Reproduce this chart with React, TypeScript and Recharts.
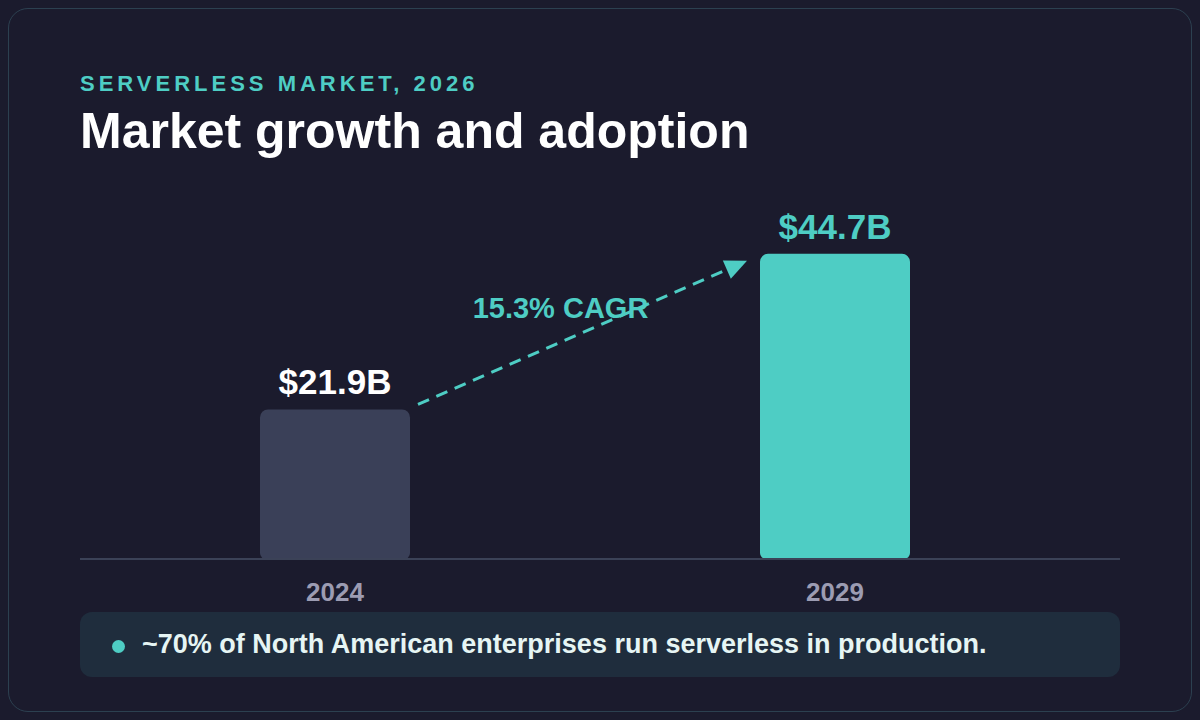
import React from "react";
import { BarChart, Bar, XAxis, YAxis, Cell, LabelList, ReferenceLine } from "recharts";

const categories = ["2024", "2029"];
const marketValues = [21.9, 44.7];
const valueLabels = ["$21.9B", "$44.7B"];
const cagrLabel = "15.3% CAGR";
const eyebrow = "SERVERLESS MARKET, 2026";
const title = "Market growth and adoption";
const note = "~70% of North American enterprises run serverless in production.";

const BG = "#1b1b2d";
const TEAL = "#4ecdc4";
const BAR_FILLS = ["#3a4058", TEAL];
const LABEL_FILLS = ["#ffffff", TEAL];
const BAR_SIZE = 150;
const FONT = "'Liberation Sans', Arial, Helvetica, sans-serif";

const data = categories.map((c, i) => ({ year: c, value: marketValues[i], label: valueLabels[i] }));

const renderValueLabel = (props: any) => {
  const { x, y, width, value } = props;
  let idx = props.index;
  if (idx === undefined || idx === null) idx = marketValues.indexOf(Number(value));
  return (
    <text
      x={Number(x) + Number(width) / 2}
      y={Number(y) - 15}
      textAnchor="middle"
      fill={LABEL_FILLS[idx] ?? "#fff"}
      fontSize={35}
      fontWeight={700}
      fontFamily={FONT}
    >
      {valueLabels[idx]}
    </text>
  );
};

const ArrowShape = (props: any) => {
  const { x1, y1, x2, y2 } = props;
  if ([x1, y1, x2, y2].some((v) => v === undefined || isNaN(Number(v)))) return null;
  const half = BAR_SIZE / 2;
  const sx = x1 + half + 8;
  const sy = y1 - 5;
  const tx = x2 - half - 13;
  const ty = y2 + 7;
  const dx = tx - sx;
  const dy = ty - sy;
  const len = Math.sqrt(dx * dx + dy * dy);
  const ux = dx / len;
  const uy = dy / len;
  const headLen = 22;
  const headHalf = 10;
  const bx = tx - ux * headLen;
  const by = ty - uy * headLen;
  const px = -uy;
  const py = ux;
  const ex = tx - ux * (headLen - 4);
  const ey = ty - uy * (headLen - 4);
  const mx = (sx + tx) / 2;
  const my = (sy + ty) / 2;
  return (
    <g>
      <line x1={sx} y1={sy} x2={ex} y2={ey} stroke={TEAL} strokeWidth={3} strokeDasharray="12 8" />
      <polygon
        points={`${tx},${ty} ${bx + px * headHalf},${by + py * headHalf} ${bx - px * headHalf},${by - py * headHalf}`}
        fill={TEAL}
      />
      <text
        x={mx - 22}
        y={my - 15}
        textAnchor="middle"
        fill={TEAL}
        fontSize={29}
        fontWeight={700}
        fontFamily={FONT}
      >
        {cagrLabel}
      </text>
    </g>
  );
};

export default function App() {
  return (
    <div style={{ position: "absolute", left: 0, top: 0, width: 1200, height: 720, background: BG, fontFamily: FONT, overflow: "hidden" }}>
      <div
        style={{
          position: "absolute",
          left: 8,
          top: 8,
          width: 1184,
          height: 704,
          boxSizing: "border-box",
          border: "1.5px solid #2c4050",
          borderRadius: 20,
        }}
      />
      <div style={{ position: "absolute", left: 0, top: 0 }}>
        <BarChart width={1200} height={720} data={data} margin={{ top: 204, right: 80, bottom: 121, left: 80 }}>
          <YAxis hide domain={[0, 52]} />
          <XAxis
            dataKey="year"
            height={40}
            padding={{ left: 5, right: 35 }}
            axisLine={{ stroke: "#3b4257", strokeWidth: 2 }}
            tickLine={false}
            tickMargin={18}
            tick={{ fill: "#9c9cb2", fontSize: 26, fontWeight: 700, fontFamily: FONT }}
          />
          <Bar dataKey="value" barSize={BAR_SIZE} radius={[8, 8, 6, 6]} isAnimationActive={false}>
            {data.map((d, i) => (
              <Cell key={d.year} fill={BAR_FILLS[i]} />
            ))}
            <LabelList dataKey="value" content={renderValueLabel} />
          </Bar>
          <ReferenceLine
            segment={[
              { x: categories[0], y: marketValues[0] },
              { x: categories[1], y: marketValues[1] },
            ]}
            shape={ArrowShape}
          />
        </BarChart>
      </div>
      <div
        style={{
          position: "absolute",
          left: 80,
          top: 92 - 0.8465 * 22,
          fontSize: 22,
          lineHeight: "22px",
          fontWeight: 700,
          letterSpacing: 4,
          color: TEAL,
          whiteSpace: "nowrap",
        }}
      >
        {eyebrow}
      </div>
      <div
        style={{
          position: "absolute",
          left: 80,
          top: 148 - 0.8465 * 50,
          fontSize: 50,
          lineHeight: "50px",
          fontWeight: 700,
          color: "#ffffff",
          whiteSpace: "nowrap",
        }}
      >
        {title}
      </div>
      <div
        style={{
          position: "absolute",
          left: 80,
          top: 612,
          width: 1040,
          height: 65,
          borderRadius: 12,
          background: "#1f2d3d",
        }}
      />
      <div
        style={{
          position: "absolute",
          left: 118 - 6.5,
          top: 646 - 6.5,
          width: 13,
          height: 13,
          borderRadius: "50%",
          background: TEAL,
        }}
      />
      <div
        style={{
          position: "absolute",
          left: 142,
          top: 654 - 0.8465 * 27,
          fontSize: 27,
          lineHeight: "27px",
          fontWeight: 700,
          color: "#e6f5f4",
          whiteSpace: "nowrap",
        }}
      >
        {note}
      </div>
    </div>
  );
}
